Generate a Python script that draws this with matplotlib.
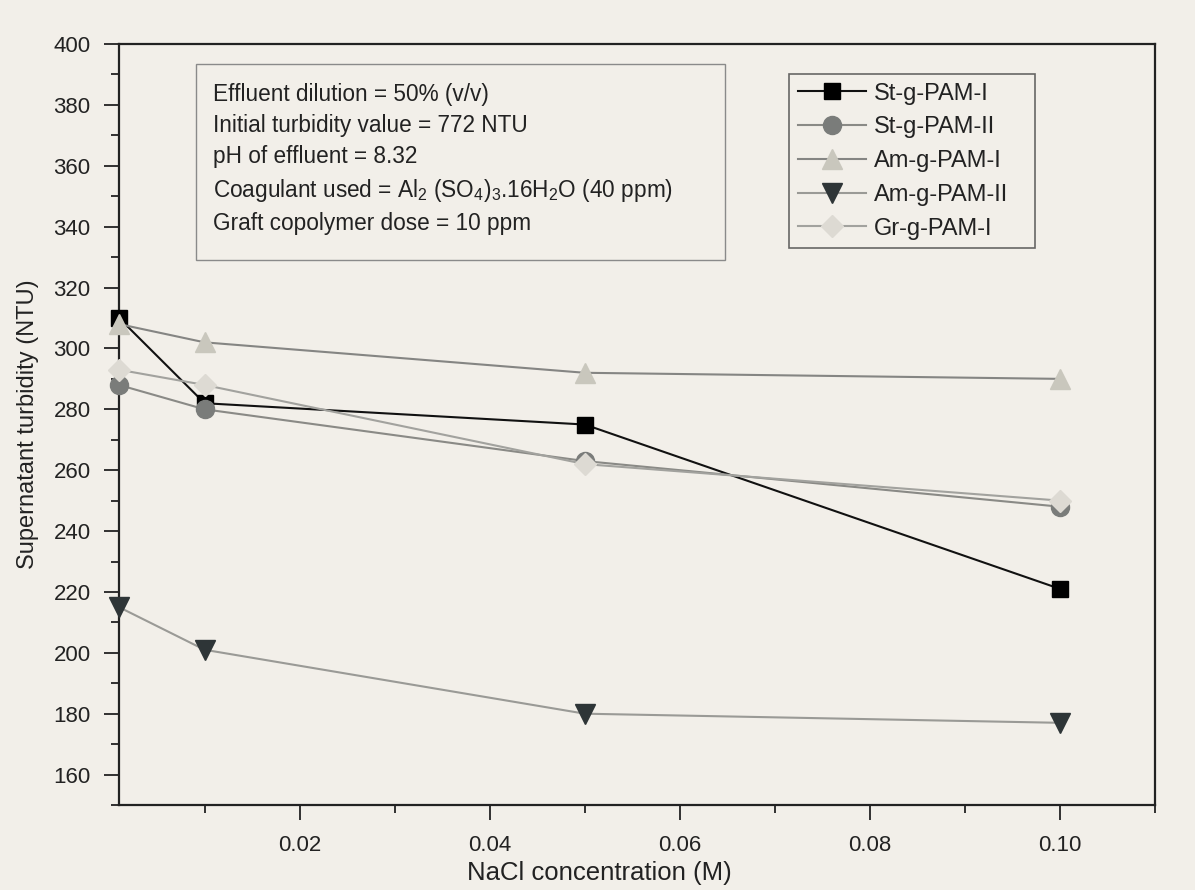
import numpy as np
import matplotlib
matplotlib.use('Agg')
import matplotlib.pyplot as plt
from matplotlib.patches import Rectangle
from matplotlib.ticker import MultipleLocator

plt.rcParams['font.family'] = ['Liberation Sans', 'DejaVu Sans']
plt.rcParams['mathtext.fontset'] = 'custom'
plt.rcParams['mathtext.rm'] = 'Liberation Sans'
plt.rcParams['mathtext.default'] = 'regular'

# 数据
nacl = [0.001, 0.01, 0.05, 0.10]
st_pam_1 = [310, 282, 275, 221]
st_pam_2 = [288, 280, 263, 248]
am_pam_1 = [308, 302, 292, 290]
am_pam_2 = [215, 201, 180, 177]
gr_pam_1 = [293, 288, 262, 250]

series_names = ['St-g-PAM-I', 'St-g-PAM-II', 'Am-g-PAM-I', 'Am-g-PAM-II', 'Gr-g-PAM-I']
series_values = [st_pam_1, st_pam_2, am_pam_1, am_pam_2, gr_pam_1]

info_lines = [
    'Effluent dilution = 50% (v/v)',
    'Initial turbidity value = 772 NTU',
    'pH of effluent = 8.32',
    r'Coagulant used = Al$_2$ (SO$_4$)$_3$.16H$_2$O (40 ppm)',
    'Graft copolymer dose = 10 ppm',
]

bg = '#f2efe9'
styles = [
    dict(marker='s', color='#111111', mfc='#000000', mec='#000000', ms=11.5, lw=1.5),
    dict(marker='o', color='#8a8a86', mfc='#7a7c7a', mec='#7a7c7a', ms=13, lw=1.5),
    dict(marker='^', color='#858583', mfc='#c9c7bd', mec='#c9c7bd', ms=14.5, lw=1.5),
    dict(marker='v', color='#9a9a96', mfc='#2e3537', mec='#2e3537', ms=14.5, lw=1.5),
    dict(marker='D', color='#a2a29e', mfc='#dddad3', mec='#dddad3', ms=11.5, lw=1.5),
]

fig = plt.figure(figsize=(11.95, 8.9), dpi=100, facecolor=bg)
ax = fig.add_axes([0.0996, 0.0955, 0.867, 0.855], facecolor=bg)

for name, vals, st in zip(series_names, series_values, styles):
    ax.plot(nacl, vals, label=name, clip_on=False, zorder=3, **st)

ax.set_xlim(0.001, 0.110)
ax.set_ylim(150, 400)
ax.xaxis.set_minor_locator(MultipleLocator(0.01))
ax.yaxis.set_minor_locator(MultipleLocator(10))
ax.set_xticks([0.02, 0.04, 0.06, 0.08, 0.10])
ax.set_xticklabels(['0.02', '0.04', '0.06', '0.08', '0.10'])
ax.set_yticks(np.arange(160, 401, 20))

ax.tick_params(which='major', direction='out', length=10.5, width=1.3,
               labelsize=16, colors='#222222', pad=10)
ax.tick_params(which='minor', direction='out', length=5.5, width=1.3, colors='#222222')
ax.tick_params(axis='x', which='major', pad=11)
for sp in ax.spines.values():
    sp.set_linewidth(1.6)
    sp.set_color('#222222')

ax.set_xlabel('NaCl concentration (M)', fontsize=18.5, color='#222222', labelpad=1)
ax.xaxis.set_label_coords(0.464, -0.073)
ax.set_ylabel('Supernatant turbidity (NTU)', fontsize=17, color='#222222', labelpad=10)

# 信息框
ax.add_patch(Rectangle((0.0743, 0.716), 0.511, 0.258, transform=ax.transAxes,
                       fc=bg, ec='#8a8a8a', lw=1.0, zorder=4))
ax.text(0.0907, 0.949, '\n'.join(info_lines), transform=ax.transAxes,
        fontsize=16.3, color='#222222', va='top', ha='left', linespacing=1.45,
        zorder=5)

# 图例 (右侧留白较多, 用 expand 模式固定宽度)
leg = ax.legend(loc='upper left', bbox_to_anchor=(0.6467, 0.5, 0.2375, 0.4606),
                mode='expand', borderaxespad=0, fontsize=17, frameon=True,
                fancybox=False, handlelength=2.9, labelspacing=0.5,
                borderpad=0.36, handletextpad=0.35)
leg.get_frame().set_facecolor(bg)
leg.get_frame().set_edgecolor('#444444')
leg.get_frame().set_linewidth(1.2)
for txt in leg.get_texts():
    txt.set_color('#222222')

plt.savefig('out.png', dpi=100, facecolor=bg)
